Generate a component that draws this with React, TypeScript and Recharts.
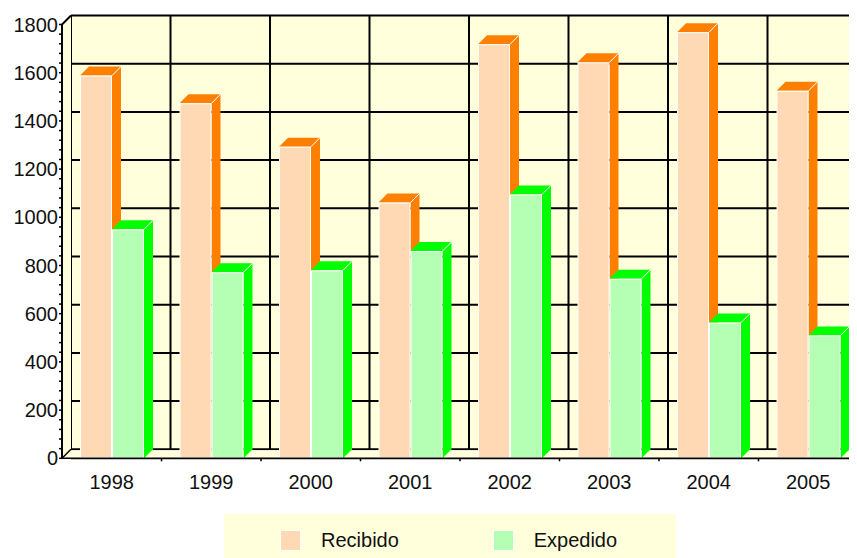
import React from 'react';
import { BarChart, Bar, XAxis, YAxis, CartesianGrid, ReferenceArea, Legend } from 'recharts';

// ---------- data ----------
const years = ['1998', '1999', '2000', '2001', '2002', '2003', '2004', '2005'];
const recibido = [1588, 1473, 1293, 1061, 1718, 1643, 1768, 1525];
const expedido = [950, 772, 780, 860, 1095, 745, 563, 510];
const yTickLabels = [0, 200, 400, 600, 800, 1000, 1200, 1400, 1600, 1800];
const seriesNames = ['Recibido', 'Expedido'];

const data = years.map((year, i) => ({ year, recibido: recibido[i], expedido: expedido[i] }));

// ---------- layout / style ----------
const W = 849;
const H = 550;
const DEPTH = 9;
const Y_AXIS_W = 54;
const MARGIN = { top: 7.5, right: -10, left: 0, bottom: 0 };
const LEGEND_H = 44;
const X_AXIS_H = 55.7;
const PLOT_LEFT = MARGIN.left + Y_AXIS_W;
const PLOT_W = W - MARGIN.left - MARGIN.right - Y_AXIS_W;
const PLOT_H = H - MARGIN.top - MARGIN.bottom - LEGEND_H - X_AXIS_H;
const GRID_X = PLOT_LEFT + DEPTH;
const GRID_W = PLOT_W - DEPTH;
const BACK_BAND = GRID_W / years.length;

const WALL = '#FFFFDC';
const FONT = '"Liberation Sans", Arial, Helvetica, sans-serif';
const REC_FRONT = '#FFD8B4';
const REC_SIDE = '#FF8000';
const EXP_FRONT = '#B4FFB4';
const EXP_SIDE = '#00FF00';

const Y_MAX = yTickLabels[yTickLabels.length - 1];
const Y_MINOR = 40;
const yMinorTicks: number[] = [];
for (let v = 0; v <= Y_MAX; v += Y_MINOR) yMinorTicks.push(v);

const Bar3D = (props: any) => {
  const { x, y, width: w, height: h, front, side } = props;
  if (w == null || h == null || isNaN(x) || isNaN(y)) return <g />;
  const d = DEPTH;
  return (
    <g>
      <polygon
        points={`${x},${y} ${x + d},${y - d} ${x + w + d},${y - d} ${x + w},${y}`}
        fill={side}
      />
      <polygon
        points={`${x + w},${y} ${x + w + d},${y - d} ${x + w + d},${y + h - d} ${x + w},${y + h}`}
        fill={side}
      />
      <line x1={x + w} y1={y} x2={x + w + d} y2={y - d} stroke="#fff" strokeWidth={1} />
      <rect x={x + 0.5} y={y + 0.5} width={w - 1} height={h - 1} fill={front} stroke="#fff" strokeWidth={1} />
    </g>
  );
};

// left wall + floor; vertical span comes from the back value axis (ReferenceArea), horizontal from the plot frame
const Walls = (props: any) => {
  const { y, height: h } = props;
  if ([y, h].some((v) => typeof v !== 'number' || isNaN(v))) return <g />;
  const d = DEPTH;
  const x = PLOT_LEFT;
  const w = PLOT_W;
  const bx = x + d;
  return (
    <g>
      <polygon points={`${x},${y + d} ${bx},${y} ${bx},${y + h} ${x},${y + h + d}`} fill={WALL} />
      <polygon points={`${x},${y + h + d} ${bx},${y + h + 1} ${x + w},${y + h + 1} ${x + w - d},${y + h + d}`} fill={WALL} />
      <line x1={x} y1={y + d} x2={bx} y2={y} stroke="#000" strokeWidth={2} />
      <line x1={x} y1={y + h + d} x2={bx} y2={y + h} stroke="#000" strokeWidth={1.5} />
      <line x1={x} y1={y + d} x2={x} y2={y + h + d} stroke="#000" strokeWidth={2} />
    </g>
  );
};

const HLine = (p: any) => (
  <line key={`h-${p.index}-${p.y1}`} x1={GRID_X} y1={p.y1} x2={p.x2} y2={p.y2} stroke="#000" strokeWidth={2} />
);

// vertical wall lines sit on the category boundaries (band centre -/+ half a band)
const VLine = (p: any) => {
  const k = (p.x1 - GRID_X) / BACK_BAND - 0.5;
  const isCentre = Math.abs(k - Math.round(k)) < 0.05 && Math.round(k) >= 0 && Math.round(k) < years.length;
  if (!isCentre) return <g key={`v-${p.index}-${p.x1}`} />;
  const left = p.x1 - BACK_BAND / 2;
  const right = p.x1 + BACK_BAND / 2;
  return (
    <g key={`v-${p.index}-${p.x1}`}>
      <line x1={left} y1={p.y1} x2={left} y2={p.y2} stroke="#000" strokeWidth={2} />
      {Math.round(k) === years.length - 1 ? (
        <line x1={right} y1={p.y1} x2={right} y2={p.y2} stroke="#000" strokeWidth={2} />
      ) : null}
    </g>
  );
};

const XTick = (props: any) => {
  const { x, y, payload } = props;
  const off = payload && typeof payload.offset === 'number' ? payload.offset : 0;
  return (
    <g>
      {off > 0 && payload.index > 0 ? (
        <line x1={x - off} x2={x - off} y1={y - 16} y2={y - 13} stroke="#000" strokeWidth={1.5} />
      ) : null}
      <text x={x} y={y} dy="0.71em" textAnchor="middle" fontFamily={FONT} fontSize={20} fill="#111">
        {payload.value}
      </text>
    </g>
  );
};

const YTick = (props: any) => {
  const { x, y, payload } = props;
  if (!yTickLabels.includes(payload.value)) return <g />;
  return (
    <text x={x} y={y} dy="0.355em" textAnchor="end" fontFamily={FONT} fontSize={20} fill="#111">
      {payload.value}
    </text>
  );
};

const renderLegend = (props: any) => {
  const payload = (props.payload || [])
    .filter((e: any) => seriesNames.includes(e.value))
    .sort((a: any, b: any) => seriesNames.indexOf(a.value) - seriesNames.indexOf(b.value));
  return (
    <div style={{ position: 'relative', width: 452, height: LEGEND_H, background: WALL }}>
      {payload.map((e: any, i: number) => (
        <div
          key={e.value}
          style={{ position: 'absolute', left: 56 + i * 212.7, top: 16, height: 21, display: 'flex', alignItems: 'center' }}
        >
          <span
            style={{ display: 'inline-block', width: 21, height: 21, background: e.color, border: '1px solid #fff', boxSizing: 'border-box' }}
          />
          <span style={{ marginLeft: 20, fontFamily: FONT, fontSize: 20, color: '#111', lineHeight: '21px', whiteSpace: 'nowrap' }}>
            {e.value}
          </span>
        </div>
      ))}
    </div>
  );
};

export default function App() {
  return (
    <BarChart width={W} height={H} data={data} margin={MARGIN} barGap={0} barSize={32}>
      {/* back (wall) axes, kept on the opposite sides so they do not push the front axes */}
      <XAxis
        dataKey="year"
        type="category"
        orientation="top"
        hide
        interval={0}
        padding={{ left: DEPTH, right: 0 }}
      />
      <XAxis
        xAxisId="w"
        type="number"
        orientation="top"
        domain={[0, years.length]}
        allowDataOverflow
        hide
      />
      <YAxis
        type="number"
        orientation="right"
        domain={[0, Y_MAX]}
        ticks={yTickLabels}
        allowDataOverflow
        hide
        padding={{ top: 0, bottom: DEPTH }}
      />
      <CartesianGrid
        x={GRID_X}
        y={MARGIN.top}
        width={GRID_W}
        height={PLOT_H - DEPTH}
        fill={WALL}
        fillOpacity={1}
        stroke="#000"
        strokeWidth={2}
        horizontal={HLine}
        vertical={VLine}
      />
      <ReferenceArea xAxisId="w" x1={0} x2={years.length} y1={0} y2={Y_MAX} shape={<Walls />} ifOverflow="visible" />
      {/* front axes */}
      <XAxis
        xAxisId="f"
        dataKey="year"
        type="category"
        padding={{ left: 0, right: DEPTH }}
        height={X_AXIS_H}
        tickSize={0}
        tickMargin={16}
        tickLine={false}
        axisLine={{ stroke: '#000', strokeWidth: 1.5 }}
        tick={<XTick />}
        interval={0}
      />
      <YAxis
        yAxisId="f"
        type="number"
        domain={[0, Y_MAX]}
        ticks={yMinorTicks}
        interval={0}
        width={Y_AXIS_W}
        padding={{ top: DEPTH, bottom: 0 }}
        axisLine={false}
        tickLine={{ stroke: '#000', strokeWidth: 1.5 }}
        tickSize={3}
        tickMargin={1}
        tick={<YTick />}
      />
      <Bar
        xAxisId="f"
        yAxisId="f"
        dataKey="recibido"
        name={seriesNames[0]}
        fill={REC_FRONT}
        isAnimationActive={false}
        shape={(p: any) => <Bar3D {...p} front={REC_FRONT} side={REC_SIDE} />}
      />
      <Bar
        xAxisId="f"
        yAxisId="f"
        dataKey="expedido"
        name={seriesNames[1]}
        fill={EXP_FRONT}
        isAnimationActive={false}
        shape={(p: any) => <Bar3D {...p} front={EXP_FRONT} side={EXP_SIDE} />}
      />
      <Legend
        verticalAlign="bottom"
        align="center"
        height={LEGEND_H}
        wrapperStyle={{ left: 216, width: 452, bottom: 0 }}
        content={renderLegend}
      />
    </BarChart>
  );
}
